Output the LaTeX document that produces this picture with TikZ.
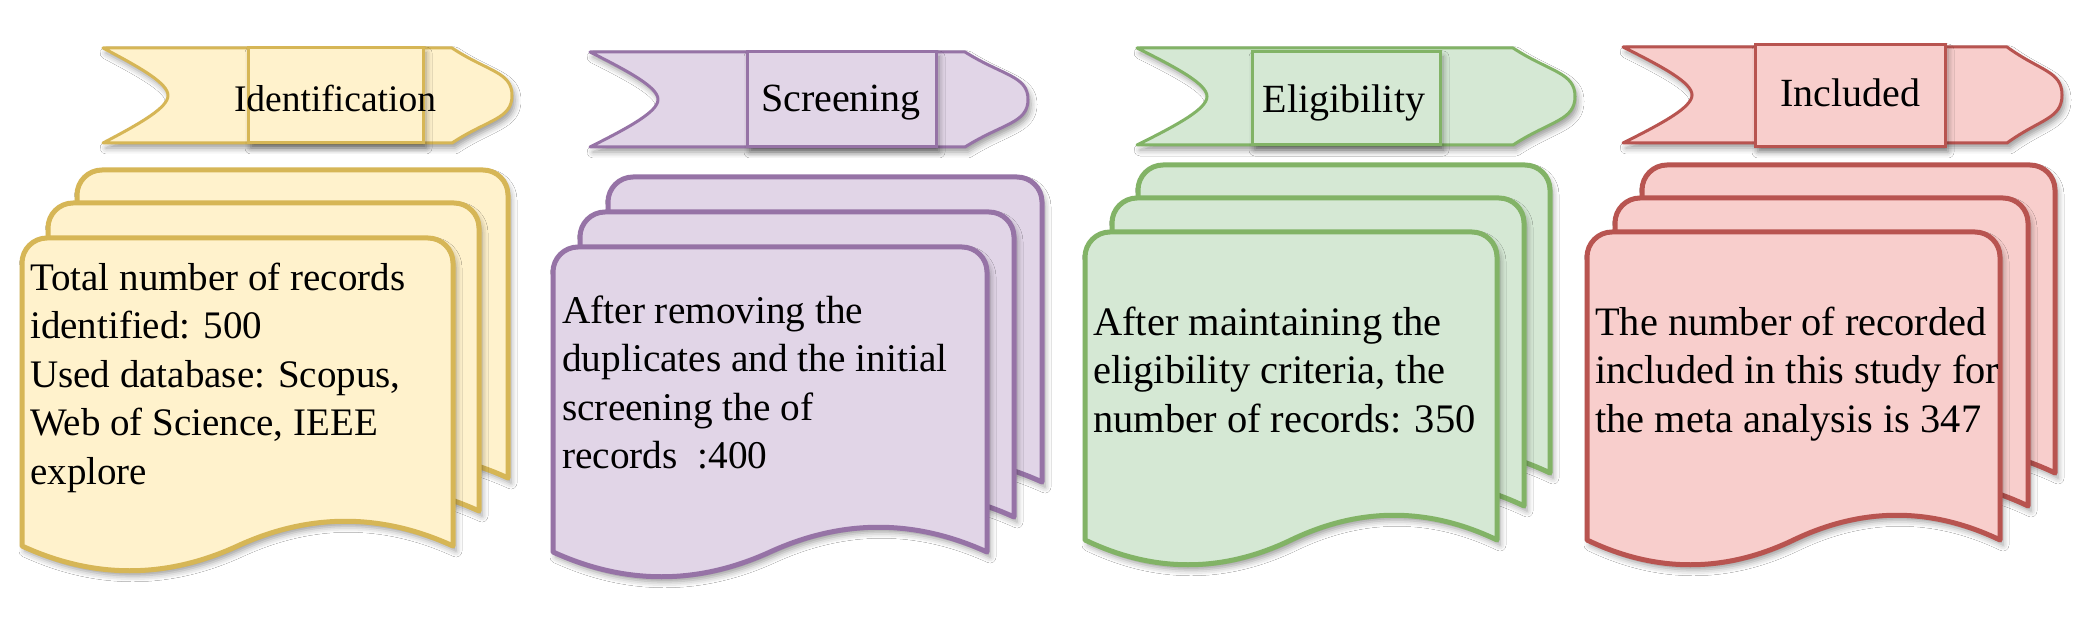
\documentclass[tikz,border=0pt]{standalone}
\usepackage{fontspec}
\setmainfont{Liberation Serif}
\usetikzlibrary{calc,shadows.blur}
\definecolor{yfill}{HTML}{FFF2CC}\definecolor{ydraw}{HTML}{D6B656}
\definecolor{pfill}{HTML}{E1D5E7}\definecolor{pdraw}{HTML}{9673A6}
\definecolor{gfill}{HTML}{D5E8D4}\definecolor{gdraw}{HTML}{82B366}
\definecolor{rfill}{HTML}{F8CECC}\definecolor{rdraw}{HTML}{B85450}
\tikzset{
  shd/.style={blur shadow={shadow xshift=3pt,shadow yshift=-5pt,shadow blur radius=6pt,shadow opacity=40}},
  ban/.style={fill=#1fill,draw=#1draw,line width=3pt,line join=round,shd},
  innerbox/.style={rectangle,fill=#1fill,draw=#1draw,line width=3pt,inner sep=0pt,shd},
  sheet/.style={fill=#1fill,draw=#1draw,line width=5pt,line join=round,shd},
  lbl/.style={inner sep=0pt,anchor=base,font=\fontsize{#1}{#1}\selectfont},
  body/.style={inner sep=0pt,anchor=base west,align=left,font=\fontsize{#1}{48.5}\selectfont}
}
% banner: #1 L, #2 T, #3 B, #4 notch x, #5 straight end, #6 tip, #7 style
\newcommand{\bannershape}[7]{%
  \pgfmathsetmacro\bnM{(#2+#3)/2}%
  \pgfmathsetmacro\bnQ{0.25*(#3-#2)}%
  \pgfmathsetmacro\bnA{#2+\bnQ}%
  \pgfmathsetmacro\bnB{\bnM-\bnQ}%
  \pgfmathsetmacro\bnC{\bnM+\bnQ}%
  \pgfmathsetmacro\bnD{#3-\bnQ}%
  \pgfmathsetmacro\bnR{#5+0.6*(#6-#5)}%
  \pgfmathsetmacro\bnL{#1+0.6*(#4-#1)}%
  \pgfmathsetmacro\bnE{#2+0.215*(#3-#2)}%
  \pgfmathsetmacro\bnF{#3-0.215*(#3-#2)}%
  \pgfmathsetmacro\bnG{\bnM-0.125*(#3-#2)}%
  \pgfmathsetmacro\bnH{\bnM+0.125*(#3-#2)}%
  \path[#7] (#1,#2) -- (#5,#2) .. controls (\bnR,\bnA) and (#6,\bnB) .. (#6,\bnM)
    .. controls (#6,\bnC) and (\bnR,\bnD) .. (#5,#3) -- (#1,#3)
    .. controls (\bnL,\bnF) and (#4,\bnH) .. (#4,\bnM)
    .. controls (#4,\bnG) and (\bnL,\bnE) .. cycle;
}
% document sheet: #1 x0, #2 y0, #3 w, #4 H, #5 style
\newcommand{\docsheet}[5]{%
  \pgfmathsetmacro\dsR{#1+#3}%
  \pgfmathsetmacro\dsB{#2+#4}%
  \pgfmathsetmacro\dsM{#1+0.5*#3}%
  \pgfmathsetmacro\dsP{#1+0.8333*#3}%
  \pgfmathsetmacro\dsQ{#1+0.6667*#3}%
  \pgfmathsetmacro\dsS{#1+0.3333*#3}%
  \pgfmathsetmacro\dsT{#1+0.1667*#3}%
  \pgfmathsetmacro\dsU{\dsB-33}%
  \pgfmathsetmacro\dsD{\dsB+33}%
  \pgfmathsetmacro\dsLa{#1+25}\pgfmathsetmacro\dsLb{#1+11.2}%
  \pgfmathsetmacro\dsRa{\dsR-25}\pgfmathsetmacro\dsRb{\dsR-11.2}%
  \pgfmathsetmacro\dsTa{#2+25}\pgfmathsetmacro\dsTb{#2+11.2}%
  \path[#5] (#1,\dsB) -- (#1,\dsTa) .. controls (#1,\dsTb) and (\dsLb,#2) .. (\dsLa,#2)
    -- (\dsRa,#2) .. controls (\dsRb,#2) and (\dsR,\dsTb) .. (\dsR,\dsTa)
    -- (\dsR,\dsB) .. controls (\dsP,\dsU) and (\dsQ,\dsU) .. (\dsM,\dsB)
    .. controls (\dsS,\dsD) and (\dsT,\dsD) .. cycle;
}
\begin{document}
\begin{tikzpicture}[x=1pt,y=-1pt]
\useasboundingbox (0,0) rectangle (2080,636);
\fill[white] (0,0) rectangle (2080,636);
% ---- banners
\bannershape{103}{48}{143}{168}{452}{512}{ban=y}
\node[innerbox=y,minimum width=175pt,minimum height=95pt] (r1) at (335.5,95.5) {};
\node[lbl=37.5] (t1) at (335,112) {Identification};

\bannershape{590}{52}{147}{658}{965}{1028}{ban=p}
\node[innerbox=p,minimum width=189pt,minimum height=95pt] (r2) at (841.5,99.5) {};
\node[lbl=40] (t2) at (841,112) {Screening};

\bannershape{1137}{48}{145}{1207}{1513}{1575}{ban=g}
\node[innerbox=g,minimum width=188pt,minimum height=93pt] (r3) at (1346,98.5) {};
\node[lbl=40] (t3) at (1344,113) {Eligibility};

\bannershape{1623}{47}{143}{1692}{2007}{2062}{ban=r}
\node[innerbox=r,minimum width=190pt,minimum height=102pt] (r4) at (1850,96) {};
\node[lbl=40] (t4) at (1850,107) {Included};
% ---- stacks (text anchor = baseline of last line)
\docsheet{77}{170}{431}{308}{sheet=y}
\docsheet{48}{203}{431}{308}{sheet=y}
\docsheet{22}{238}{431}{308}{sheet=y}
\node[body=39] (b1) at (30,484) {Total number of records\\identified: 500\\Used database: Scopus,\\Web of Science, IEEE\\explore};

\docsheet{608}{177}{434}{305}{sheet=p}
\docsheet{580}{212}{434}{305}{sheet=p}
\docsheet{553}{247}{434}{305}{sheet=p}
\node[body=39.3] (b2) at (562,468.5) {After removing the\\duplicates and the initial\\screening the of\\records\ \ :400};

\docsheet{1138}{165}{412}{308}{sheet=g}
\docsheet{1112}{198}{412}{308}{sheet=g}
\docsheet{1085}{232}{412}{308}{sheet=g}
\node[body=40.5] (b3) at (1093,432) {After maintaining the\\eligibility criteria, the\\number of records: 350};

\docsheet{1642}{165}{413}{308}{sheet=r}
\docsheet{1615}{198}{413}{308}{sheet=r}
\docsheet{1587}{232}{413}{308}{sheet=r}
\node[body=40.4] (b4) at (1595,432) {The number of recorded\\included in this study for\\the meta analysis is 347};
\end{tikzpicture}
\end{document}
